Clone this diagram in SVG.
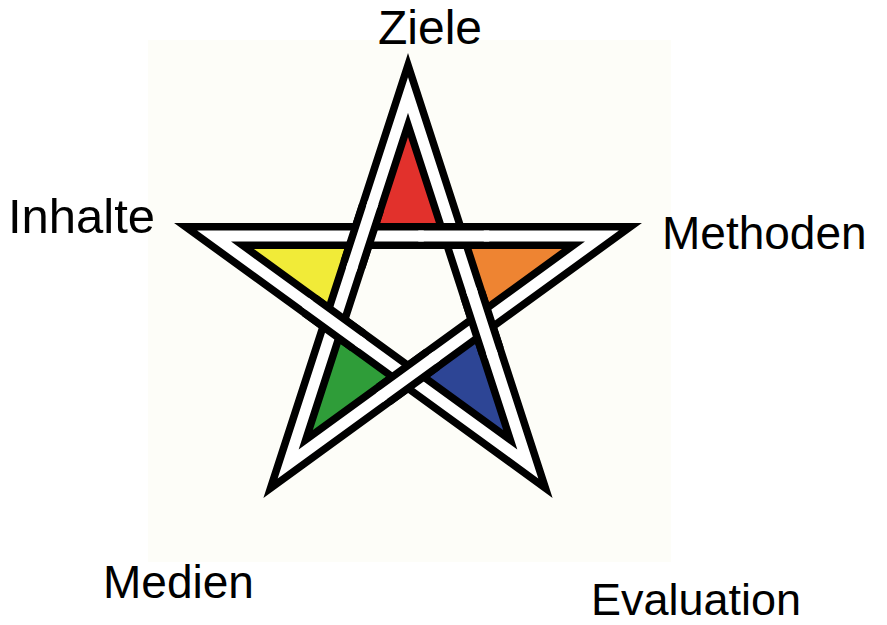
<svg xmlns="http://www.w3.org/2000/svg" width="887" height="625" viewBox="0 0 887 625">
<defs>
<style>
.lbl{font-family:"Liberation Sans",Arial,sans-serif;font-size:46px;fill:#000}
.rb{fill:none;stroke:#000;stroke-width:26;stroke-linejoin:miter;stroke-miterlimit:6}
.rw{fill:none;stroke:#fff;stroke-width:11;stroke-linejoin:miter;stroke-miterlimit:10}
.ob{fill:none;stroke:#000;stroke-width:26;stroke-linecap:butt}
.ow{fill:none;stroke:#fff;stroke-width:11;stroke-linecap:square}
</style>
<polygon id="tri" points="0,-168.3 -30.6,-74 30.6,-74"/>
</defs>
<rect x="148" y="40" width="523" height="522" fill="#fdfdf8"/>
<g id="triangles">
<use href="#tri" fill="#e2312c" transform="rotate(0 408 299) translate(408 299)"/>
<use href="#tri" fill="#ee8432" transform="rotate(72 408 299) translate(408 299)"/>
<use href="#tri" fill="#2d4595" transform="rotate(144 408 299) translate(408 299)"/>
<use href="#tri" fill="#2f9d39" transform="rotate(216 408 299) translate(408 299)"/>
<use href="#tri" fill="#f1eb38" transform="rotate(288 408 299) translate(408 299)"/>
</g>
<g id="connectors">
<path class="rb" d="M408,95.07 L527.87,463.98 L214.05,235.98 L601.95,235.98 L288.13,463.98 Z"/>
<path class="rw" d="M408,95.07 L527.87,463.98 L214.05,235.98 L601.95,235.98 L288.13,463.98 Z"/>
<path class="ob" d="M352.95,264.51 L371.49,207.45 M423.78,235.98 L483.78,235.98 M472.81,294.54 L491.35,351.6 M432.27,359.26 L383.73,394.52 M358.19,340.7 L309.65,305.44"/>
<path class="ow" d="M352.95,264.51 L371.49,207.45 M423.78,235.98 L483.78,235.98 M472.81,294.54 L491.35,351.6 M432.27,359.26 L383.73,394.52 M358.19,340.7 L309.65,305.44"/>
</g>
<g id="n-ziele"><text class="lbl" x="430" y="44" text-anchor="middle" style="font-size:48px">Ziele</text></g>
<g id="n-inhalte"><text class="lbl" x="8" y="233" style="font-size:49px">Inhalte</text></g>
<g id="n-methoden"><text class="lbl" x="662" y="249">Methoden</text></g>
<g id="n-medien"><text class="lbl" x="103" y="598">Medien</text></g>
<g id="n-evaluation"><text class="lbl" x="591" y="615" style="font-size:45px">Evaluation</text></g>
</svg>
